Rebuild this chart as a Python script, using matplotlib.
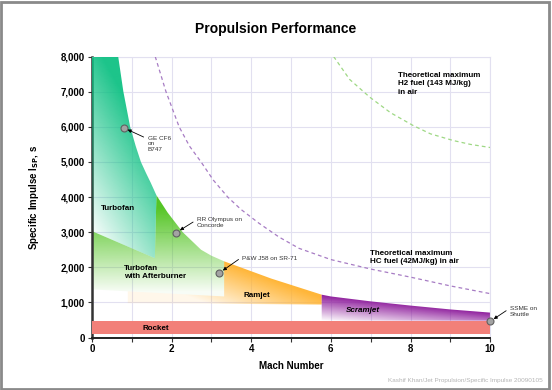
import numpy as np
import matplotlib.pyplot as plt
from matplotlib.colors import to_rgb
from matplotlib.patches import Polygon, Rectangle

plt.rcParams['font.family'] = ['Liberation Sans', 'DejaVu Sans']

# region outlines (Mach number, Isp in s)
turbofan_x = [0, 0.66, 0.79, 0.96, 1.1, 1.23, 1.36, 1.48, 1.62, 1.62, 1.58, 0]
turbofan_y = [8000, 8000, 7000, 6000, 5450, 5000, 4680, 4400, 4050, 4050, 2260, 3030]
afterburner_x = [0, 1.58, 1.62, 1.9, 2.28, 2.74, 3.0, 3.32, 3.32, 0]
afterburner_y = [3030, 2260, 4050, 3560, 3000, 2500, 2330, 2170, 1170, 1370]
ramjet_x = [0.9, 0.9, 3.32, 3.32, 4.5, 5.77, 5.77]
ramjet_y = [980, 1315, 1170, 2170, 1680, 1220, 940]
scramjet_x = [5.77, 6.0, 7.0, 8.0, 9.0, 10.0, 10.0, 5.77]
scramjet_y = [1220, 1170, 1030, 910, 800, 710, 480, 480]
rocket_lo, rocket_hi = 90, 480

hc_x = [1.59, 1.86, 2.19, 2.45, 2.74, 3.05, 3.41, 3.74, 4.2, 4.7, 5.2, 6.0, 7.0, 8.0, 9.0, 10.0]
hc_y = [8000, 7000, 6000, 5450, 5000, 4480, 4000, 3650, 3250, 2860, 2540, 2220, 1950, 1720, 1470, 1250]
h2_x = [6.07, 6.47, 6.98, 7.5, 8.06, 8.5, 9.07, 9.5, 10.0]
h2_y = [8000, 7350, 6840, 6400, 6040, 5800, 5610, 5500, 5410]

engines = ['GE CF6\non\nB747', 'RR Olympus on\nConcorde', 'P&W J58 on SR-71', 'SSME on\nShuttle']
engine_x = [0.8, 2.12, 3.2, 10.0]
engine_y = [5970, 2990, 1840, 460]
label_x = [1.4, 2.64, 3.78, 10.5]
label_y = [5750, 3420, 2330, 900]

x_ticks = [0, 2, 4, 6, 8, 10]
y_ticks = [0, 1000, 2000, 3000, 4000, 5000, 6000, 7000, 8000]

fig = plt.figure(figsize=(5.52, 3.9), dpi=100)
fig.patches.append(Rectangle((0.002, 0.003), 0.993, 0.993, transform=fig.transFigure,
                             fill=False, edgecolor='#8a8a8a', lw=2))
ax = fig.add_axes([0.1665, 0.1345, 0.7215, 0.7205])
ax.set_xlim(0, 10)
ax.set_ylim(0, 8000)

# grid of (u, v) in axes fraction for the gradient fills
gx = np.linspace(0, 10, 400)
gy = np.linspace(0, 8000, 400)
X, Y = np.meshgrid(gx, gy)
U, V = X / 10, Y / 8000


def gradient_fill(xs, ys, color, alpha, z):
    rgba = np.zeros(U.shape + (4,))
    rgba[..., :3] = to_rgb(color)
    rgba[..., 3] = np.clip(alpha, 0, 1)
    poly = Polygon(np.column_stack([xs, ys]), closed=True, fill=False, edgecolor='none')
    ax.add_patch(poly)
    im = ax.imshow(rgba, extent=[0, 10, 0, 8000], origin='lower', aspect='auto',
                   interpolation='bilinear', zorder=z)
    im.set_clip_path(poly)


ramjet_alpha = np.clip(1 - (0.452 - 0.52 * U - V) / 0.2, 0.1, 0.95)
gradient_fill(ramjet_x, ramjet_y, '#ffb22e', ramjet_alpha, 1)

ab_alpha = np.clip((V - 0.15) / 0.33, 0.04, 0.95)
gradient_fill(afterburner_x, afterburner_y, '#4cc21a', ab_alpha, 2)

tf_alpha = np.clip((3 * U + 1.2 * (V - 0.35)) / 0.9, 0.03, 0.95)
gradient_fill(turbofan_x, turbofan_y, '#10c184', tf_alpha, 3)

v_top = 0.1525 - 0.149 * (U - 0.577)
depth = (v_top - V) / np.maximum(v_top - 0.06, 0.01)
sc_alpha = 1 - depth * (1 - 0.6 * (U - 0.577) / 0.423)
gradient_fill(scramjet_x, scramjet_y, '#8e1d9c', sc_alpha, 2)

ax.axhspan(rocket_lo, rocket_hi, color='#f28079', zorder=4, lw=0)

ax.plot(hc_x, hc_y, '--', color='#a77cc4', lw=0.9, dashes=(3, 2.5), zorder=5)
ax.plot(h2_x, h2_y, '--', color='#9ed884', lw=0.9, dashes=(3, 2.5), zorder=5)

ax.plot(engine_x, engine_y, 'o', ms=5, mfc='#a3a3a3', mec='#606060', mew=0.8, zorder=7,
        clip_on=False)
for name, px, py, tx, ty in zip(engines, engine_x, engine_y, label_x, label_y):
    ax.annotate(name, xy=(px, py), xytext=(tx, ty), fontsize=4.6, color='#333333',
                va='top', ha='left', annotation_clip=False, zorder=8,
                arrowprops=dict(arrowstyle='-|>', color='black', lw=0.6,
                                mutation_scale=5, shrinkA=1, shrinkB=3, relpos=(0, 0.8)))

bold = dict(fontweight='bold', zorder=8)
ax.text(0.23, 3680, 'Turbofan', fontsize=5.8, va='center', **bold)
ax.text(0.8, 1850, 'Turbofan\nwith Afterburner', fontsize=5.8, va='center',
        linespacing=1.2, **bold)
ax.text(3.8, 1200, 'Ramjet', fontsize=5.8, va='center', **bold)
ax.text(6.37, 770, 'Scramjet', fontsize=5.8, va='center', style='italic', **bold)
ax.text(1.28, 260, 'Rocket', fontsize=5.8, va='center', **bold)
ax.text(7.68, 7560, 'Theoretical maximum\nH2 fuel (143 MJ/kg)\nin air', fontsize=5.8,
        va='top', linespacing=1.25, **bold)
ax.text(6.97, 2500, 'Theoretical maximum\nHC fuel (42MJ/kg) in air', fontsize=5.8,
        va='top', linespacing=1.25, **bold)

ax.set_xticks(x_ticks)
ax.set_xticks(range(11), minor=True)
ax.set_yticks(y_ticks)
ax.set_xticklabels([str(t) for t in x_ticks], fontsize=7, fontweight='bold')
ax.set_yticklabels(['{:,}'.format(t) for t in y_ticks], fontsize=7, fontweight='bold')
ax.tick_params(length=3, width=0.8, color='#333333', pad=2)
ax.tick_params(which='minor', length=3, width=0.8, color='#333333')
ax.grid(True, which='both', color='#e2e0f0', lw=0.8, zorder=0)
ax.set_axisbelow(True)
for s in ['top', 'right']:
    ax.spines[s].set_color('#e2e0f0')
ax.spines['left'].set_linewidth(1.8)
ax.spines['bottom'].set_linewidth(1.4)
ax.spines['left'].set_color('#333333')
ax.spines['bottom'].set_color('#222222')

ax.set_xlabel('Mach Number', fontsize=7, fontweight='bold', labelpad=5)
ax.set_ylabel('Specific Impulse I$_{\\mathbf{SP}}$, s', fontsize=7, fontweight='bold', labelpad=14)

fig.text(0.5, 0.925, 'Propulsion Performance', fontsize=10, fontweight='bold',
         ha='center', va='center')
fig.text(0.984, 0.025, 'Kashif Khan/Jet Propulsion/Specific Impulse 20090105',
         fontsize=4.6, color='#b5b5b5', ha='right', va='center')

fig.savefig('out.png', dpi=100)
